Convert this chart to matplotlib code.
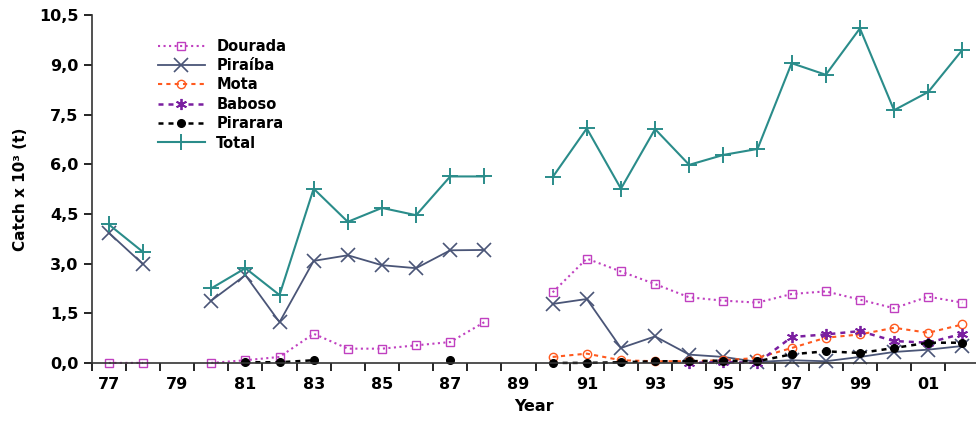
import numpy as np
import matplotlib
matplotlib.use("Agg")
import matplotlib.pyplot as plt
from matplotlib.ticker import FixedLocator, FuncFormatter

nan = np.nan
years = list(range(1977, 2003))

# catch values (x 10^3 t), NaN = no data
dourada = [0.0, 0.0, nan, 0.0, 0.08, 0.18, 0.88, 0.43, 0.43, 0.53, 0.63, 1.23, nan,
           2.13, 3.15, 2.76, 2.38, 1.98, 1.88, 1.82, 2.08, 2.16, 1.91, 1.65, 2.0, 1.82]
piraiba = [3.93, 2.98, nan, 1.88, 2.65, 1.23, 3.08, 3.25, 2.95, 2.86, 3.40, 3.41, nan,
           1.78, 1.93, 0.45, 0.80, 0.25, 0.18, 0.03, 0.08, 0.05, 0.18, 0.33, 0.40, 0.51]
mota = [nan]*13 + [0.18, 0.28, 0.08, 0.05, 0.05, 0.08, 0.15, 0.45, 0.76, 0.86, 1.06, 0.91, 1.16]
baboso = [nan]*17 + [0.0, 0.03, 0.0, 0.78, 0.86, 0.96, 0.66, 0.61, 0.88]
pirarara = [nan, nan, nan, nan, 0.02, 0.02, 0.08, nan, nan, nan, 0.08, nan, nan,
            0.0, 0.0, 0.02, 0.05, 0.05, 0.07, 0.05, 0.26, 0.35, 0.30, 0.45, 0.61, 0.61]
total = [4.18, 3.35, nan, 2.25, 2.86, 2.05, 5.26, 4.26, 4.68, 4.46, 5.63, 5.63, nan,
         5.61, 7.08, 5.26, 7.06, 5.98, 6.28, 6.46, 9.05, 8.70, 10.1, 7.63, 8.18, 9.45]

yticks = [0, 1.5, 3.0, 4.5, 6.0, 7.5, 9.0, 10.5]
xlabel_years = list(range(1977, 2003, 2))

fig = plt.figure(figsize=(9.76, 4.21), dpi=100)
ax = fig.add_axes([0.094, 0.138, 0.906, 0.826])

ax.plot(years, dourada, color='#c040c0', ls=':', lw=1.5, marker='s', ms=5.5,
        mfc='none', mec='#c040c0', mew=1.0, label='Dourada')
ax.plot(years, piraiba, color='#4a5577', ls='-', lw=1.3, marker='x', ms=10,
        mew=1.2, label='Piraíba')
ax.plot(years, mota, color='#ff5a1f', ls=(0, (2, 2)), lw=1.5, marker='o', ms=6,
        mfc='none', mec='#ff5a1f', mew=1.0, label='Mota')
ax.plot(years, baboso, color='#7a1fa0', ls=(0, (2, 2)), lw=1.8, marker=(6, 2, 0), ms=8,
        mew=1.3, label='Baboso')
ax.plot(years, pirarara, color='black', ls=(0, (2, 2)), lw=1.8, marker='o', ms=5.5,
        label='Pirarara')
ax.plot(years, total, color='#2a8c8a', ls='-', lw=1.5, marker='+', ms=12,
        mew=1.4, label='Total')

ax.set_xlim(1976.5, 2002.4)
ax.set_ylim(0, 10.5)
ax.set_yticks(yticks)
ax.yaxis.set_major_formatter(FuncFormatter(lambda v, p: f"{v:.1f}".replace('.', ',')))
ax.xaxis.set_major_locator(FixedLocator(xlabel_years))
ax.xaxis.set_major_formatter(FuncFormatter(lambda v, p: f"{int(round(v)) % 100:02d}"))
ax.xaxis.set_minor_locator(FixedLocator([y + 0.5 for y in range(1976, 2003)]))
ax.tick_params(axis='x', which='major', length=0, pad=10)
ax.tick_params(axis='x', which='minor', length=6, width=1.2, direction='out')
ax.tick_params(axis='y', length=6, width=1.2, direction='out')
for lab in ax.get_xticklabels() + ax.get_yticklabels():
    lab.set_fontweight('bold')
    lab.set_fontsize(11.5)
ax.spines['top'].set_visible(False)
ax.spines['right'].set_visible(False)
ax.spines['left'].set_linewidth(1.2)
ax.spines['bottom'].set_linewidth(1.2)
ax.spines['bottom'].set_color('#333333')
ax.spines['left'].set_color('#333333')
for sp in ax.spines.values():
    sp.set_clip_on(False)
for ln in ax.lines:
    ln.set_clip_on(False)

ax.set_xlabel('Year', fontsize=11.5, fontweight='bold', labelpad=5)
ax.set_ylabel('Catch x 10³ (t)', fontsize=11, fontweight='bold', labelpad=8)

ax.legend(loc='upper left', bbox_to_anchor=(0.06, 0.97), frameon=False,
          handlelength=3.2, labelspacing=0.3, prop={'weight': 'bold', 'size': 10.5},
          handletextpad=0.8)

fig.savefig('out.png', dpi=100)
